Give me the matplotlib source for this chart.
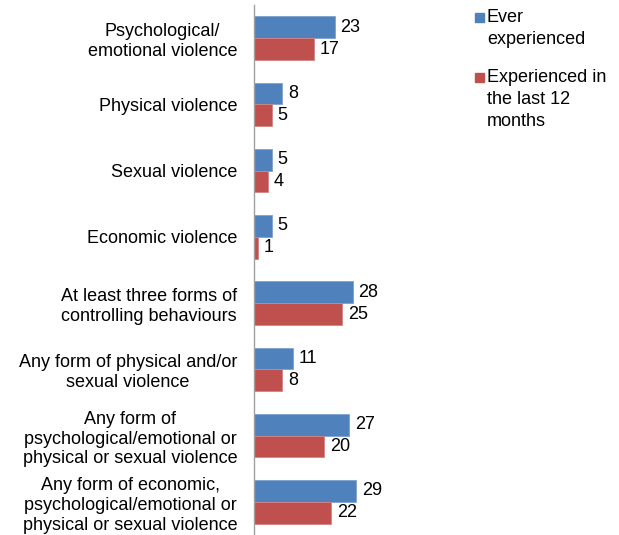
import numpy as np
import matplotlib.pyplot as plt
from matplotlib.patches import Rectangle

# =========================
# DATA
# =========================
categories = [
    "Psychological/\nemotional violence",
    "Physical violence",
    "Sexual violence",
    "Economic violence",
    "At least three forms of\ncontrolling behaviours",
    "Any form of physical and/or\nsexual violence",
    "Any form of\npsychological/emotional or\nphysical or sexual violence",
    "Any form of economic,\npsychological/emotional or\nphysical or sexual violence",
]
ever = [23, 8, 5, 5, 28, 11, 27, 29]
last12 = [17, 5, 4, 1, 25, 8, 20, 22]
series_names = ["Ever\nexperienced", "Experienced in\nthe last 12\nmonths"]

BLUE = "#4F81BD"
RED = "#C0504D"
FS = 13

plt.rcParams['font.family'] = ['Liberation Sans', 'DejaVu Sans']

fig = plt.figure(figsize=(6.19, 5.35), dpi=100)
ax = fig.add_axes([254 / 619, 0.0, 206 / 619, 530 / 535])

y = np.arange(len(categories))
h = 0.33
ax.barh(y - h / 2, ever, height=h, color=BLUE, edgecolor="#7EA3D0", linewidth=0.6)
ax.barh(y + h / 2, last12, height=h, color=RED, edgecolor="#D58583", linewidth=0.6)

for yi, v in zip(y, ever):
    ax.text(v + 1.6, yi - h / 2, str(v), va="center", ha="left", fontsize=FS)
for yi, v in zip(y, last12):
    ax.text(v + 1.6, yi + h / 2, str(v), va="center", ha="left", fontsize=FS)

ax.set_ylim(len(categories) - 0.5, -0.5)
ax.set_xlim(0, 206 / 3.52)
ax.set_yticks(y)
ax.set_yticklabels(categories, fontsize=FS, multialignment="center", linespacing=1.22)
ax.tick_params(axis="y", length=0, pad=12)
ax.set_xticks([])
for s in ["top", "right", "bottom"]:
    ax.spines[s].set_visible(False)
ax.spines["left"].set_color("#A0A0A0")
ax.spines["left"].set_linewidth(1.0)
ax.patch.set_alpha(0)

# legend, laid out like the original (square beside the first line)
W, H = 619, 535
legend_tops = [9, 69]
for top, name, col in zip(legend_tops, series_names, [BLUE, RED]):
    fig.patches.append(Rectangle((475 / W, 1 - (top + 13) / H), 9 / W, 9 / H,
                                 transform=fig.transFigure, color=col))
    fig.text(487 / W, 1 - top / H, name, va="top", ha="left", fontsize=FS,
             linespacing=1.4)

plt.savefig("out.png", dpi=100)
